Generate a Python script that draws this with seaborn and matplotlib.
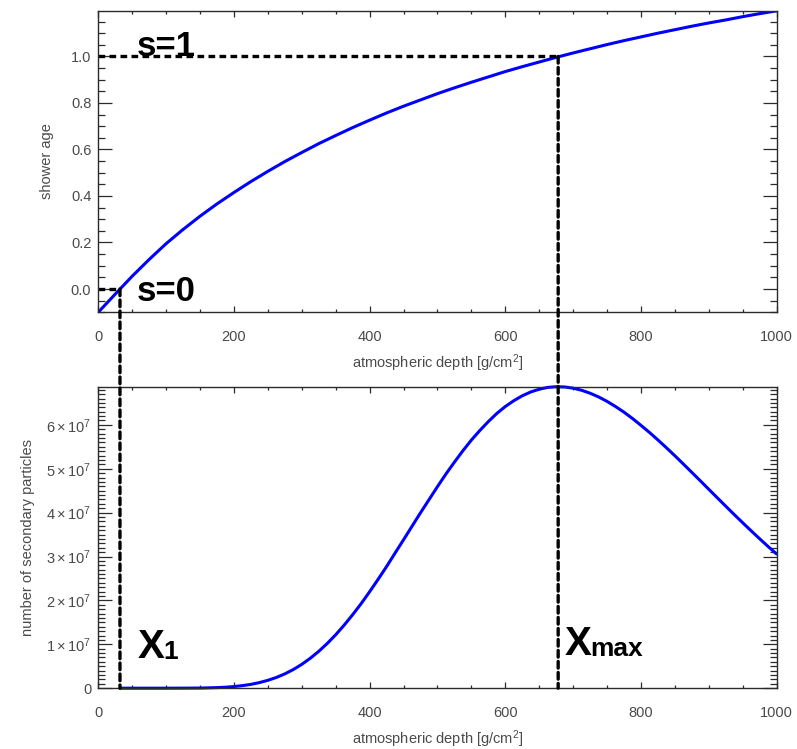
import numpy as np
import pandas as pd
import matplotlib
matplotlib.use("Agg")
import matplotlib.pyplot as plt
from matplotlib.patches import ConnectionPatch
from matplotlib.ticker import MultipleLocator, FuncFormatter
import seaborn as sns

# ── Data ─────────────────────────────────────────────────────────────────────
# shower age vs atmospheric depth (top panel)
depth_age = [0, 25, 50, 75, 100, 125, 150, 175, 200, 225, 250, 275, 300, 325,
             350, 375, 400, 425, 450, 475, 500, 525, 550, 575, 600, 625, 650,
             675, 700, 725, 750, 775, 800, 825, 850, 875, 900, 925, 950, 975,
             1000]
shower_age = [-0.100, -0.022, 0.055, 0.127, 0.195, 0.256, 0.313, 0.366, 0.415,
              0.462, 0.506, 0.548, 0.587, 0.625, 0.660, 0.694, 0.726, 0.757,
              0.786, 0.813, 0.840, 0.865, 0.889, 0.912, 0.935, 0.956, 0.976,
              0.996, 1.015, 1.033, 1.051, 1.068, 1.084, 1.100, 1.115, 1.130,
              1.144, 1.157, 1.171, 1.184, 1.196]

# longitudinal profile (bottom panel), particle numbers in units of 1e7
depth_profile = [32, 50, 75, 100, 125, 150, 175, 187.5, 200, 212.5, 225,
                 237.5, 250, 262.5, 275, 287.5, 300, 312.5, 325, 337.5, 350,
                 362.5, 375, 387.5, 400, 412.5, 425, 437.5, 450, 462.5, 475,
                 487.5, 500, 512.5, 525, 537.5, 550, 562.5, 575, 587.5, 600,
                 612.5, 625, 637.5, 650, 662.5, 675, 687.5, 700, 712.5, 725,
                 737.5, 750, 762.5, 775, 787.5, 800, 812.5, 825, 837.5, 850,
                 862.5, 875, 887.5, 900, 912.5, 925, 937.5, 950, 962.5, 975,
                 987.5, 1000]
particles_1e7 = [0.0, 0.0, 0.0, 0.0, 0.001, 0.003, 0.013, 0.022, 0.037, 0.058,
                 0.087, 0.127, 0.179, 0.244, 0.326, 0.425, 0.543, 0.681,
                 0.839, 1.018, 1.217, 1.437, 1.674, 1.926, 2.197, 2.480,
                 2.771, 3.078, 3.381, 3.689, 3.996, 4.294, 4.592, 4.880,
                 5.150, 5.410, 5.653, 5.872, 6.075, 6.260, 6.418, 6.550,
                 6.663, 6.750, 6.813, 6.854, 6.870, 6.864, 6.837, 6.789,
                 6.722, 6.638, 6.536, 6.419, 6.290, 6.146, 5.990, 5.829,
                 5.657, 5.480, 5.297, 5.109, 4.918, 4.727, 4.533, 4.340,
                 4.148, 3.957, 3.770, 3.586, 3.405, 3.228, 3.058]

X_FIRST = 32      # first interaction depth X1
X_MAX = 678       # depth of shower maximum
N_PEAK = 6.87e7

BLUE = "#0000ff"
GREY_TXT = "#4a4a4a"
AX_COL = "#2b2b2b"

sns.set_theme(style="ticks")
plt.rcParams["font.family"] = ["Liberation Sans", "DejaVu Sans"]
plt.rcParams["mathtext.fontset"] = "custom"
plt.rcParams["mathtext.rm"] = "Liberation Sans"
plt.rcParams["mathtext.it"] = "Liberation Sans:italic"
plt.rcParams["mathtext.bf"] = "Liberation Sans:bold"

age_df = pd.DataFrame({"depth": depth_age, "age": shower_age})
prof_df = pd.DataFrame({"depth": depth_profile,
                        "n": np.array(particles_1e7) * 1e7})


def _style_ax(ax, ymajor, yminor):
    """IDL-like frame: inward ticks on all four sides."""
    for spine in ax.spines.values():
        spine.set_visible(True)
        spine.set_linewidth(1.0)
        spine.set_color(AX_COL)
    ax.set_xlim(0, 1000)
    ax.xaxis.set_major_locator(MultipleLocator(200))
    ax.xaxis.set_minor_locator(MultipleLocator(50))
    ax.yaxis.set_major_locator(MultipleLocator(ymajor))
    ax.yaxis.set_minor_locator(MultipleLocator(yminor))
    ax.tick_params(which="both", direction="in", top=True, right=True,
                   color=AX_COL, width=0.9, labelcolor=GREY_TXT, labelsize=10.5)
    ax.tick_params(axis="x", which="major", length=4.5, pad=13)
    ax.tick_params(axis="x", which="minor", length=2.3)
    ax.tick_params(axis="y", which="major", length=9.8, pad=5)
    ax.tick_params(axis="y", which="minor", length=5.0)
    ax.set_xlabel(r"atmospheric depth [g/cm$^{2}$]", fontsize=10.5,
                  color=GREY_TXT, labelpad=6)


def _label_with_sub(ax, x, y, main, sub, x_adv):
    """Bold big letter followed by a smaller bold subscript."""
    ax.text(x, y, main, fontsize=29, fontweight="bold", color="black",
            va="baseline", ha="left")
    ax.annotate(sub, xy=(x, y), xycoords="data", xytext=(x_adv, -1.0),
                textcoords="offset points", fontsize=19, fontweight="bold",
                color="black", va="baseline", ha="left")


fig = plt.figure(figsize=(7.97, 7.49), dpi=100)
ax_top = fig.add_axes([0.1233, 0.5831, 0.8511, 0.4027])
ax_bot = fig.add_axes([0.1233, 0.0812, 0.8511, 0.4025])

# ── top: shower age ──
sns.lineplot(data=age_df, x="depth", y="age", ax=ax_top, color=BLUE,
             linewidth=2.2, sort=False)
ax_top.set_ylim(-0.1, 1.197)
_style_ax(ax_top, 0.2, 0.05)
ax_top.yaxis.set_major_formatter(FuncFormatter(lambda v, _: f"{v:.1f}"))
ax_top.set_ylabel("shower age", fontsize=10.5, color=GREY_TXT, labelpad=12)

dash = (0, (2.0, 1.3))
ax_top.plot([0, X_MAX], [1.0, 1.0], color="black", lw=2.4, ls=dash)
ax_top.plot([0, X_FIRST], [0.0, 0.0], color="black", lw=2.4, ls=dash)
ax_top.text(56, 1.0, "s=1", fontsize=25, fontweight="bold", color="black",
            va="baseline", ha="left")
ax_top.text(56, -0.053, "s=0", fontsize=25, fontweight="bold", color="black",
            va="baseline", ha="left")

# ── bottom: number of secondary particles ──
sns.lineplot(data=prof_df, x="depth", y="n", ax=ax_bot, color=BLUE,
             linewidth=2.2, sort=False, clip_on=False)
ax_bot.set_ylim(0, N_PEAK)
_style_ax(ax_bot, 1e7, 1e6)
ax_bot.yaxis.set_major_formatter(FuncFormatter(
    lambda v, _: "0" if abs(v) < 1 else rf"${v / 1e7:.0f}\times10^{{7}}$"))
ax_bot.set_ylabel("number of secondary particles", fontsize=10.5,
                  color=GREY_TXT, labelpad=8)

_label_with_sub(ax_bot, 58, 0.69e7, "X", "1", 18.5)
_label_with_sub(ax_bot, 688, 0.76e7, "X", "max", 18.5)

# vertical dashed guides running through both panels
for x0, y0 in [(X_FIRST, 0.0), (X_MAX, 1.0)]:
    con = ConnectionPatch(xyA=(x0, y0), coordsA="data", axesA=ax_top,
                          xyB=(x0, 0.0), coordsB="data", axesB=ax_bot,
                          color="black", lw=2.4, ls=dash, zorder=5)
    fig.add_artist(con)

for ax in (ax_top, ax_bot):
    leg = ax.get_legend()
    if leg is not None:
        leg.remove()

fig.savefig("out.png", dpi=100)
